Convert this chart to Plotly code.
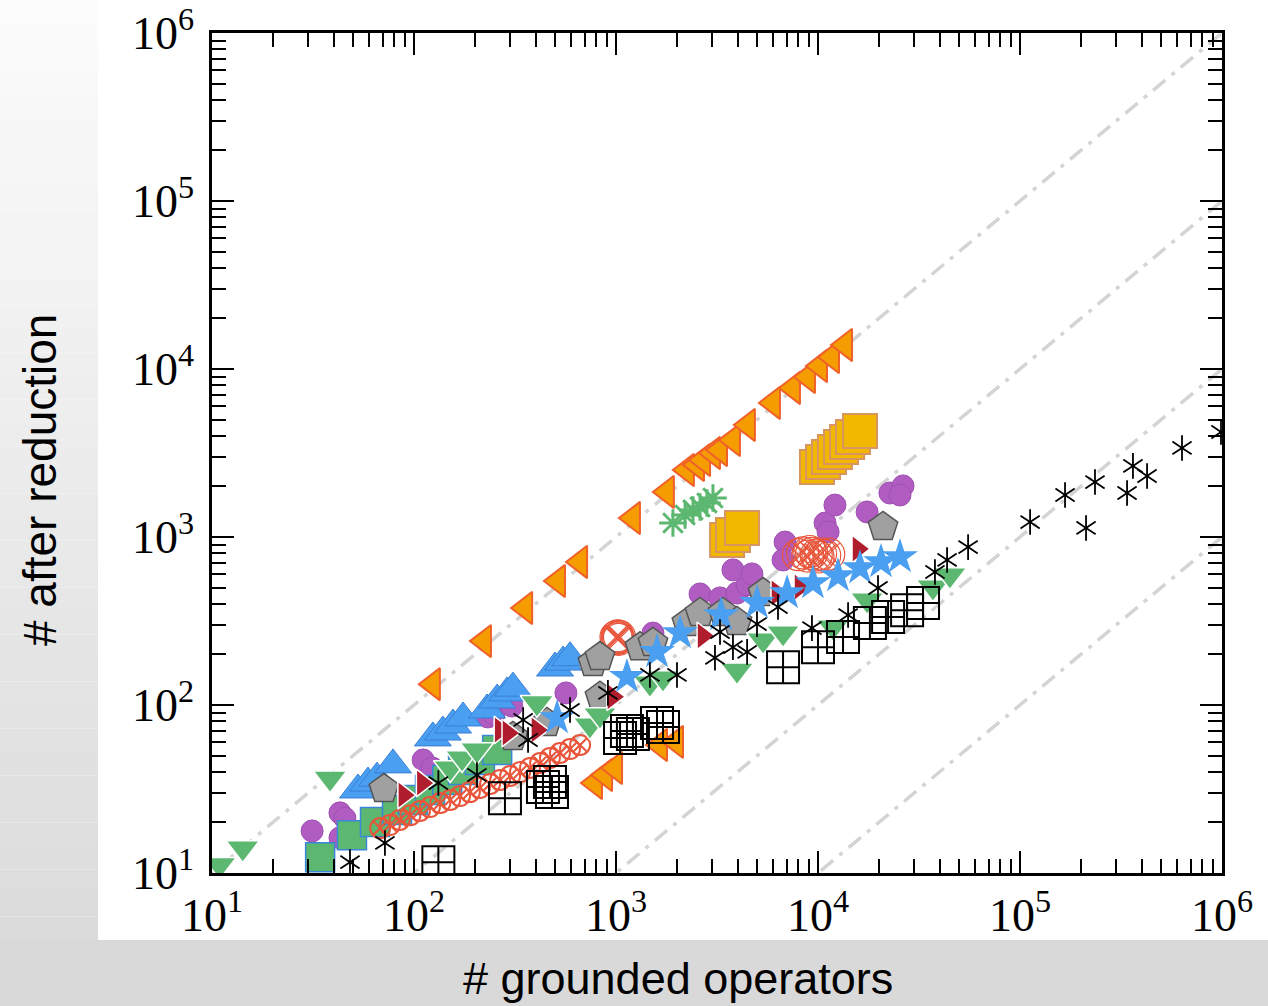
import plotly.graph_objects as go

# ---------------- data ----------------
tick_vals = [1e1, 1e2, 1e3, 1e4, 1e5, 1e6]
tick_text = ["10<sup>1</sup>", "10<sup>2</sup>", "10<sup>3</sup>",
             "10<sup>4</sup>", "10<sup>5</sup>", "10<sup>6</sup>"]
minor_vals = [k * 10 ** e for e in range(1, 6) for k in range(2, 10)]
diag_ratios = [1, 10, 100, 1000]

orange_tri_x = [124, 222, 355, 516, 664, 1213, 1786, 2244, 2518, 2698, 3020, 3273, 3793,
                4498, 5984, 7516, 8918, 10230, 11730, 13610, 787, 883, 989, 1652, 1982]
orange_tri_y = [133, 240, 378, 547, 710, 1297, 1854, 2506, 2685, 2871, 3162, 3296, 3776,
                4645, 6280, 7709, 8954, 10420, 11780, 13900, 34.3, 38.3, 42.2, 57.8, 60.3]

yellow_sq_x = [3548, 3793, 4207, 9886, 10590, 11330, 12130, 13000, 13930, 14900, 16140]
yellow_sq_y = [959, 1028, 1132, 2612, 2793, 2992, 3206, 3436, 3673, 3936, 4276]

green_ast_x = [1914, 2198, 2406, 2606, 2820, 3020]
green_ast_y = [1211, 1352, 1449, 1510, 1593, 1706]

purple_x = [31.3, 43.0, 43.0, 45.5, 111, 123, 232, 249, 305, 565, 1524, 2606, 3273, 3972,
            4457, 3793, 4710, 6871, 6714, 10840, 12130, 11220, 17500, 22700, 26360, 25470]
purple_y = [17.8, 16.2, 22.8, 21.2, 47.1, 42.2, 84.9, 88.3, 98.6, 118, 268, 458, 434, 464,
            518, 637, 603, 933, 730, 1211, 1549, 1072, 1409, 1828, 2014, 1778]

blue_tri_x = [52.8, 59.2, 65.6, 78.7, 124, 139, 156, 175, 230, 258, 289, 309, 499, 547, 592]
blue_tri_y = [31.2, 34.3, 36.7, 44.0, 63.7, 69.0, 76.0, 83.7, 93.4, 107, 118, 126, 166, 180, 191]

green_sq_x = [34.3, 49.3, 64.1, 82.4, 98.9, 120, 146, 175, 212, 258]
green_sq_y = [12.4, 16.8, 20.1, 23.7, 27.2, 31.2, 35.8, 41.0, 47.1, 54.0]

red_circ_x = [68, 76, 85, 96, 107, 120, 135, 151, 169, 189, 212, 238, 267, 299, 335, 375,
              421, 471, 528, 592, 664]
red_circ_y = [18.5, 19.3, 20.7, 22.1, 23.4, 24.7, 26.1, 27.2, 28.7, 30.3, 32.1, 33.9, 35.8,
              37.8, 39.9, 42.2, 45.2, 48.4, 51.8, 54.7, 57.8]
red_big_x = [1000, 1010, 1018, 1023, 1030, 1040, 8000, 8400, 8900, 9300, 9800, 10300,
             10800, 11300, 9100, 10000]
red_big_y = [254, 248, 258, 252, 246, 256, 785, 805, 770, 800, 780, 795, 775, 790, 820, 760]

pent_x = [71.0, 309, 455, 769, 833, 833, 1315, 1524, 2244, 2606, 3388, 3972, 5346, 20990]
pent_y = [31.6, 64.6, 78.2, 178, 193, 112, 221, 234, 308, 353, 353, 312, 464, 1148]

green_tri_x = [10.9, 14.2, 38.4, 151, 173, 205, 406, 743, 833, 1472, 1709, 3972, 5346,
               6714, 11860, 17500, 37070, 44980]
green_tri_y = [11.2, 14.1, 36.7, 42.2, 48.4, 54.0, 103, 76.0, 87.1, 135, 145, 161, 244,
               268, 291, 422, 504, 594]

red_tri_x = [89.1, 110, 267, 292, 406, 966, 2698, 6266, 8147, 15780]
red_tri_y = [29.1, 34.3, 71.0, 68.1, 71.0, 112, 258, 464, 504, 849]

blue_star_x = [511, 1133, 1596, 2075, 3311, 4989, 7031, 9441, 12560, 16140, 20510, 25470]
blue_star_y = [83.7, 147, 207, 268, 343, 405, 464, 532, 586, 653, 710, 760]

black_sq_x = [132, 282, 435, 471, 482, 1047, 1133, 1213, 1596, 1709, 6714, 10000, 13300,
              18070, 22230, 27610, 33110]
black_sq_y = [11.6, 27.9, 32.5, 34.8, 30.3, 63.7, 70.0, 67.2, 78.2, 74.0, 168, 221, 254,
              308, 334, 367, 405]

black_ast_x = [48.2, 71.8, 132, 205, 347, 367, 592, 912, 1472, 2004, 3090, 3273, 3793, 4457,
               4989, 6339, 9333, 14090, 19820, 37930, 43550, 55340, 112200, 167100, 212300,
               235100, 338800, 362400, 425600, 633900, 988600]
black_ast_y = [11.6, 15.1, 34.3, 38.3, 81.5, 61.9, 93.4, 118, 151, 151, 191, 272, 221, 207,
               303, 383, 287, 343, 497, 619, 730, 871, 1227, 1778, 1132, 2123, 1828, 2649,
               2307, 3388, 4217]

# ---------------- figure ----------------
W, H = 1268, 1006
L, R, T, B = 212, 1222, 33, 873


def px(xp):
    return (xp - L) / (R - L)


def py(yp):
    return (B - yp) / (B - T)


fig = go.Figure()

# reference diagonals y = x / r
for r in diag_ratios:
    fig.add_trace(go.Scatter(x=[10, 1e6], y=[10 / r, 1e6 / r], mode="lines",
                             line=dict(color="#d4d4d4", width=3.5, dash="16px,8px,4px,8px"),
                             hoverinfo="skip", showlegend=False))


def add(x, y, symbol, size, color, lcolor, lwidth):
    fig.add_trace(go.Scatter(x=x, y=y, mode="markers", showlegend=False,
                             marker=dict(symbol=symbol, size=size, color=color,
                                         line=dict(color=lcolor, width=lwidth))))


add(orange_tri_x, orange_tri_y, "triangle-left", 28, "#f59d00", "#f0602a", 2)
add(yellow_sq_x, yellow_sq_y, "square", 34, "#f2b800", "#d99560", 2)
add(green_ast_x, green_ast_y, "asterisk-open", 23, "#5cb870", "#5cb870", 3)
add(purple_x, purple_y, "circle", 22, "#b05cc0", "#a050b4", 1)
add(blue_tri_x, blue_tri_y, "triangle-up", 32, "#4a9ff0", "#3a7fd8", 1)
add(green_sq_x, green_sq_y, "square", 29, "#5cb870", "#3a86d8", 1.5)
add(red_circ_x, red_circ_y, "circle-x-open", 20, "#e8553a", "#e8553a", 2)
add(red_big_x, red_big_y, "circle-x-open", 32, "#e8553a", "#e8553a", 1.2)
add(pent_x, pent_y, "pentagon", 31, "#a0a0a0", "#555555", 1.5)
add(green_tri_x, green_tri_y, "triangle-down", 29, "#5cb870", "white", 1.5)
add(red_tri_x, red_tri_y, "triangle-right", 24, "#b01e2e", "white", 1.5)
add(blue_star_x, blue_star_y, "star", 27, "#4a9ff0", "#4a9ff0", 0)
add(black_sq_x, black_sq_y, "square-cross-open", 32, "black", "black", 2)
# TeX-style six-armed asterisk: two overlaid Y shapes
add(black_ast_x, black_ast_y, "y-up-open", 16, "black", "black", 1.8)
add(black_ast_x, black_ast_y, "y-down-open", 16, "black", "black", 1.8)

# backgrounds: left gradient strip and bottom band
shapes = []
n = 40
for i in range(n):
    y0p = 940 * i / n
    y1p = 940 * (i + 1) / n
    g = int(round(252 - (252 - 219) * (i + 0.5) / n))
    col = f"rgb({g},{g},{g})"
    shapes.append(dict(type="rect", xref="paper", yref="paper", x0=px(0), x1=px(98),
                       y0=py(y1p), y1=py(y0p), fillcolor=col, line=dict(width=0),
                       layer="below"))
shapes.append(dict(type="rect", xref="paper", yref="paper", x0=px(0), x1=px(W),
                   y0=py(H), y1=py(940), fillcolor="#d9d9d9", line=dict(width=0),
                   layer="below"))

tickfont = dict(family="Liberation Serif, DejaVu Serif, serif", size=46, color="black")
axis_common = dict(type="log", range=[1, 6], tickmode="array", tickvals=tick_vals,
                   ticktext=tick_text, ticks="inside", ticklen=22, tickwidth=2,
                   tickcolor="black", showline=True, linecolor="black", linewidth=2.5,
                   mirror="allticks", showgrid=False, zeroline=False, tickfont=tickfont,
                   minor=dict(ticks="inside", ticklen=14, tickwidth=2, tickcolor="black",
                              tickvals=minor_vals, showgrid=False))

fig.update_layout(
    width=W, height=H,
    margin=dict(l=L, r=W - R, t=T, b=H - B, autoexpand=False),
    paper_bgcolor="white", plot_bgcolor="white",
    xaxis=dict(axis_common, ticklabelstandoff=0),
    yaxis=dict(axis_common, ticklabelstandoff=6),
    shapes=shapes,
    annotations=[
        dict(text="# after reduction", xref="paper", yref="paper", x=px(40), y=py(480),
             textangle=-90, showarrow=False, xanchor="center", yanchor="middle",
             font=dict(family="Liberation Sans, Arial, sans-serif", size=46, color="black")),
        dict(text="# grounded operators", xref="paper", yref="paper", x=px(678), y=py(978),
             showarrow=False, xanchor="center", yanchor="middle",
             font=dict(family="Liberation Sans, Arial, sans-serif", size=45, color="black")),
    ],
)

fig.write_html("out.html", config={"displayModeBar": False},
               post_script="document.body.style.margin='0';")
